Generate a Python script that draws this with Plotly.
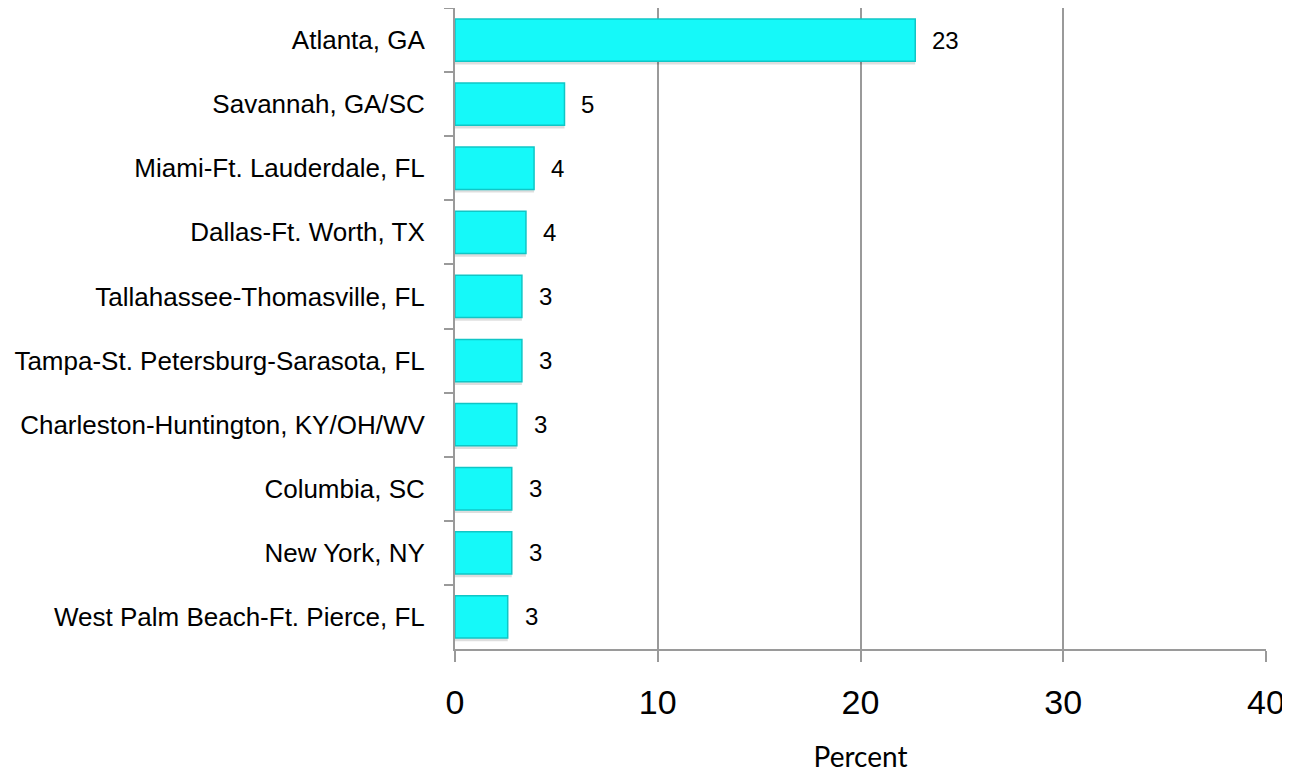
import plotly.graph_objects as go

# Top markets, ordered as in the source chart (largest first)
markets = [
    "Atlanta, GA",
    "Savannah, GA/SC",
    "Miami-Ft. Lauderdale, FL",
    "Dallas-Ft. Worth, TX",
    "Tallahassee-Thomasville, FL",
    "Tampa-St. Petersburg-Sarasota, FL",
    "Charleston-Huntington, KY/OH/WV",
    "Columbia, SC",
    "New York, NY",
    "West Palm Beach-Ft. Pierce, FL",
]
percent = [22.7, 5.4, 3.9, 3.5, 3.3, 3.3, 3.05, 2.8, 2.8, 2.6]
value_labels = ["23", "5", "4", "4", "3", "3", "3", "3", "3", "3"]
x_ticks = [0, 10, 20, 30, 40]

_CYAN = "#15F9F9"
_GRID = "#9A9A9A"
_ARIAL = "Liberation Sans, Arial"

fig = go.Figure()
# soft drop shadow under each bar
fig.add_bar(
    x=percent,
    y=markets,
    orientation="h",
    marker={"color": "rgba(0,0,0,0.13)", "line": {"width": 0}},
    width=0.66,
    offset=-0.28,
    hoverinfo="skip",
)
fig.add_bar(
    x=percent,
    y=markets,
    orientation="h",
    marker={"color": _CYAN, "line": {"color": "#10C6C6", "width": 1.5}},
    width=0.66,
    offset=-0.33,
)
for name, val, lab in zip(markets, percent, value_labels):
    fig.add_annotation(
        x=val,
        y=name,
        text=lab,
        showarrow=False,
        xanchor="left",
        xshift=15,
        font={"family": _ARIAL, "size": 24, "color": "#000000"},
    )
# the page body adds an 8px margin, so margins here are trimmed by that much
fig.update_layout(
    width=1290,
    height=772,
    margin={"l": 447, "r": 32, "t": 0, "b": 131},
    plot_bgcolor="white",
    paper_bgcolor="white",
    showlegend=False,
    barmode="overlay",
)
fig.update_xaxes(
    range=[0, 40],
    tickvals=x_ticks,
    automargin=False,
    showgrid=True,
    gridcolor=_GRID,
    gridwidth=1.5,
    showline=True,
    linecolor=_GRID,
    linewidth=2,
    ticks="outside",
    ticklen=11,
    tickcolor=_GRID,
    tickwidth=2,
    tickfont={"family": _ARIAL, "size": 34, "color": "#000000"},
    ticklabelstandoff=11,
    zeroline=False,
    title={
        "text": "Percent",
        "font": {"family": "Lato, Open Sans", "size": 28, "color": "#000000"},
        "standoff": 28,
    },
)
fig.update_yaxes(
    autorange="reversed",
    automargin=False,
    showline=True,
    linecolor=_GRID,
    linewidth=2,
    ticks="outside",
    tickson="boundaries",
    ticklen=9,
    tickcolor=_GRID,
    tickwidth=2,
    tickfont={"family": _ARIAL, "size": 26, "color": "#000000"},
    ticklabelstandoff=23,
    showgrid=False,
)
fig.write_html("out.html")
